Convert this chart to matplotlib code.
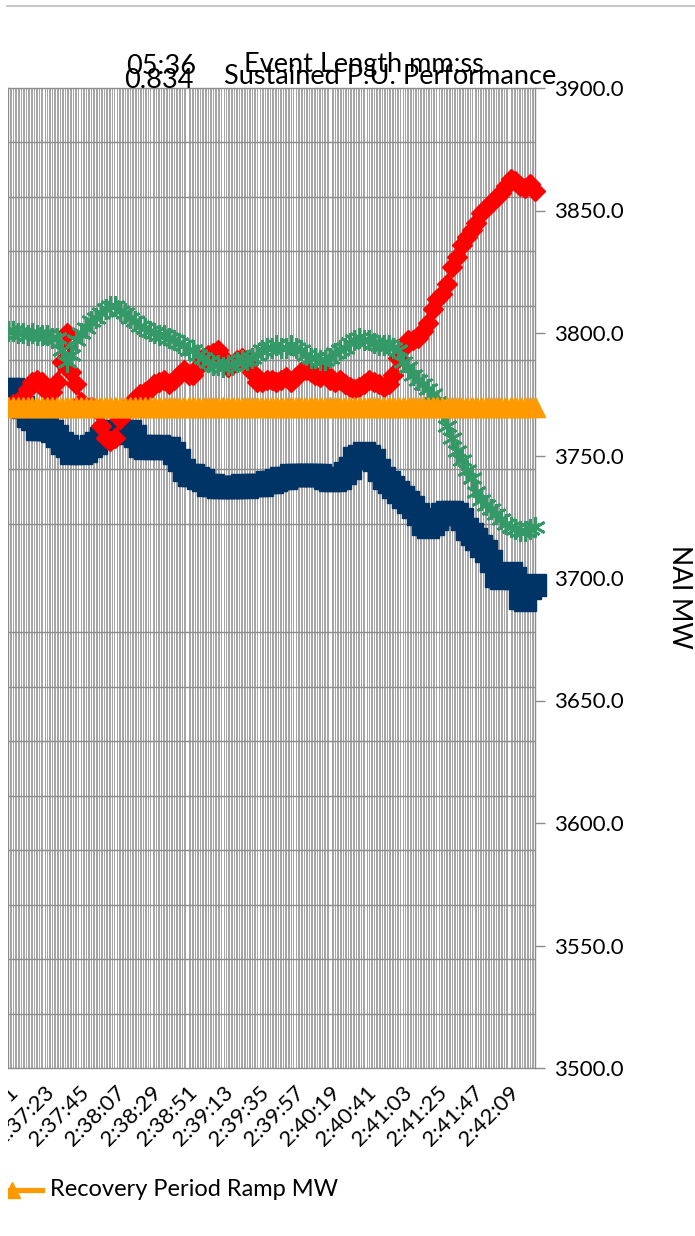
import matplotlib
matplotlib.use("Agg")
import matplotlib.pyplot as plt
import numpy as np
from matplotlib.lines import Line2D
from matplotlib.patches import Rectangle
from matplotlib.ticker import FormatStrFormatter

plt.rcParams['font.family'] = ['Lato', 'DejaVu Sans']

# ---------------- data ----------------
# seconds after 2:37:01, one sample every 3 s
seconds = np.arange(0, 325, 3)

tick_seconds = [0, 22, 44, 66, 88, 110, 132, 154, 176, 198, 220, 242, 264, 286, 308]
tick_labels = ["2:37:01", "2:37:23", "2:37:45", "2:38:07", "2:38:29", "2:38:51",
               "2:39:13", "2:39:35", "2:39:57", "2:40:19", "2:40:41", "2:41:03",
               "2:41:25", "2:41:47", "2:42:09"]

navy_mw = [3777, 3777, 3776, 3770, 3766, 3765, 3761, 3761, 3761, 3760,
           3758, 3755, 3754, 3751, 3752, 3751, 3752, 3754, 3755, 3757,
           3759, 3759, 3760, 3760, 3759, 3760, 3758, 3754, 3753, 3754,
           3753, 3754, 3753, 3753, 3751, 3748, 3744, 3742, 3742, 3741,
           3740, 3738, 3738, 3737, 3737, 3737, 3737, 3737, 3738, 3737,
           3738, 3738, 3738, 3739, 3739, 3740, 3741, 3741, 3742, 3742,
           3742, 3742, 3742, 3742, 3742, 3741, 3740, 3740, 3741, 3743,
           3745, 3749, 3750, 3751, 3750, 3748, 3744, 3741, 3739, 3737,
           3735, 3733, 3731, 3729, 3726, 3722, 3721, 3722, 3724, 3726,
           3727, 3727, 3726, 3724, 3720, 3718, 3716, 3713, 3711, 3707,
           3701, 3700, 3701, 3702, 3700, 3692, 3691, 3696, 3697]

red_mw = [3770, 3771, 3772, 3774, 3777, 3780, 3781, 3780, 3776, 3776,
          3780, 3788, 3800, 3784, 3779, 3772, 3770, 3770, 3769, 3762,
          3757, 3756, 3757, 3765, 3769, 3771, 3773, 3775, 3776, 3777,
          3779, 3780, 3781, 3779, 3781, 3783, 3785, 3783, 3783, 3786,
          3790, 3791, 3792, 3793, 3790, 3786, 3787, 3789, 3790, 3789,
          3784, 3780, 3780, 3781, 3781, 3780, 3781, 3782, 3780, 3782,
          3784, 3785, 3784, 3783, 3782, 3784, 3781, 3780, 3781, 3779,
          3778, 3777, 3778, 3779, 3781, 3780, 3779, 3778, 3779, 3783,
          3790, 3794, 3797, 3797, 3798, 3801, 3804, 3810, 3814, 3816,
          3820, 3827, 3831, 3836, 3839, 3842, 3845, 3849, 3851, 3853,
          3855, 3857, 3860, 3863, 3862, 3860, 3859, 3861, 3858]

green_mw = [3801, 3801, 3800, 3800, 3799, 3800, 3799, 3799, 3799, 3798,
            3798, 3793, 3788, 3791, 3797, 3800, 3802, 3805, 3806, 3808,
            3810, 3811, 3811, 3809, 3808, 3806, 3805, 3803, 3802, 3801,
            3800, 3799, 3799, 3798, 3797, 3796, 3795, 3793, 3793, 3791,
            3790, 3788, 3787, 3787, 3786, 3787, 3787, 3788, 3789, 3789,
            3790, 3791, 3793, 3794, 3794, 3795, 3794, 3794, 3795, 3794,
            3793, 3791, 3790, 3790, 3789, 3789, 3790, 3792, 3793, 3794,
            3796, 3797, 3798, 3797, 3797, 3796, 3795, 3795, 3795, 3794,
            3793, 3788, 3786, 3783, 3781, 3779, 3777, 3775, 3772, 3768,
            3762, 3757, 3752, 3748, 3744, 3741, 3735, 3732, 3730, 3728,
            3726, 3724, 3722, 3721, 3720, 3719, 3719, 3720, 3721]

recovery_ramp_mw = [3770.0] * len(seconds)

event_length = "05:36"
sustained_perf = "0.834"

# ---------------- figure ----------------
W, H = 695, 1236
fig = plt.figure(figsize=(W / 100, H / 100), dpi=100)


def fx(px):
    return px / W


def fy(py):
    return 1 - py / H


ax = fig.add_axes([fx(8), fy(1068), (535 - 8) / W, (1068 - 88) / H])
ax.set_xlim(0, 324)
ax.set_ylim(3500, 3900)

# grid
ax.set_xticks(np.arange(0, 325, 1), minor=True)
ax.set_yticks(np.linspace(3500, 3900, 19), minor=True)
ax.grid(which='minor', axis='x', color='#8c8c8c', lw=0.55)
ax.grid(which='minor', axis='y', color='#8c8c8c', lw=1.0)
ax.tick_params(which='minor', length=0)
ax.set_axisbelow(True)

for s in ax.spines.values():
    s.set_color('#8c8c8c')
    s.set_linewidth(1.0)

# y axis on the right
ax.yaxis.tick_right()
ax.set_yticks(np.arange(3500, 3901, 50))
ax.yaxis.set_major_formatter(FormatStrFormatter('%.1f'))
ax.tick_params(axis='y', which='major', length=7.5, width=1, color='#8c8c8c',
               labelsize=16, pad=6, direction='out')

# x axis
ax.set_xticks(tick_seconds)
ax.set_xticklabels(tick_labels, rotation=45, ha='right', va='top',
                   rotation_mode='anchor', fontsize=16)
ax.tick_params(axis='x', which='major', length=0, pad=10)

# series
ax.plot(seconds, navy_mw, color='#003366', lw=2.5, marker='s', ms=16,
        clip_on=False, zorder=3)
ax.plot(seconds, red_mw, color='#FF0000', lw=2.5, marker='D', ms=10,
        clip_on=False, zorder=4)
ax.plot(seconds, green_mw, color='#339966', lw=2.5, marker=(6, 2, 0), ms=15,
        mew=2, clip_on=False, zorder=5)
ax.plot(seconds, recovery_ramp_mw, color='#FF9900', lw=2.5, marker='^', ms=15,
        clip_on=False, zorder=6)

# cover everything left of the visible pane edge
fig.add_artist(Rectangle((0, 0), fx(7.5), 1, transform=fig.transFigure,
                         facecolor='white', edgecolor='none', zorder=20))

# top border line
fig.add_artist(Line2D([fx(7), 1], [fy(6), fy(6)], color='#bdbdbd', lw=1.2,
                      transform=fig.transFigure, zorder=21))

# header texts
fig.text(fx(126), fy(74), event_length, fontsize=19.5, va='baseline', ha='left')
fig.text(fx(244), fy(72), "Event Length mm:ss", fontsize=19.5, va='baseline', ha='left')
fig.text(fx(124), fy(88), sustained_perf, fontsize=19.5, va='baseline', ha='left')
fig.text(fx(224), fy(84), "Sustained P.U. Performance", fontsize=19.5,
         va='baseline', ha='left')

# axis title
fig.text(fx(680), fy(597), "NAI MW", rotation=270, fontsize=19,
         ha='center', va='center')

# legend (only this entry is visible)
fig.add_artist(Line2D([fx(-18), fx(42)], [fy(1189.5), fy(1189.5)], color='#FF9900',
                      lw=3.75, transform=fig.transFigure, zorder=15))
fig.add_artist(Line2D([fx(12)], [fy(1190)], color='#FF9900', marker='^', ms=12,
                      transform=fig.transFigure, zorder=15))
fig.text(fx(50), fy(1189), "Recovery Period Ramp MW", fontsize=17,
         ha='left', va='center')

fig.savefig("out.png", dpi=100)
